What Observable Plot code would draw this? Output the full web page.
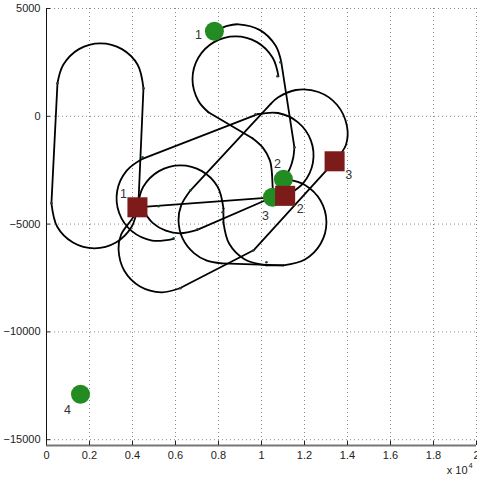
<!DOCTYPE html>
<html><head><meta charset="utf-8">
<script src="https://cdn.jsdelivr.net/npm/d3@7"></script>
<script src="https://cdn.jsdelivr.net/npm/@observablehq/plot@0.6"></script>
<style>body{margin:0;background:#fff}</style>
</head><body><div id="chart"></div>
<script>
// Axis ticks (x in units of 10^4)
const xTicks = [0, 0.2, 0.4, 0.6, 0.8, 1, 1.2, 1.4, 1.6, 1.8, 2];
const yTicks = [-15000, -10000, -5000, 0, 5000];

// Targets (green circles)
const greenLabels = ["1", "2", "3", "4"];
const greenX = [0.781, 1.102, 1.051, 0.158];
const greenY = [3942, -2922, -3757, -12894];

// Vehicles (dark red squares)
const redLabels = ["1", "2", "3"];
const redX = [0.423, 1.110, 1.340];
const redY = [-4221, -3690, -2087];

// Paths, as pieces: 2 points = straight leg, more = turning arc. [x (x10^4), y]
const pathLoop = [
  [[0.428,-3942],[0.451,1299]],
  [[0.451,1299],[0.424,2389],[0.351,3117],[0.251,3386],[0.151,3117],[0.078,2389],[0.051,1531]],
  [[0.051,1531],[0.023,-4035]],
  [[0.023,-4035],[0.050,-5125],[0.123,-5853],[0.223,-6122],[0.323,-5853],[0.396,-5125],[0.423,-4221]]
];
const pathG1toG2 = [
  [[0.781,3942],[0.841,4197],[0.893,4267],[0.993,3998],[1.066,3270],[1.092,2514]],
  [[1.092,2514],[1.153,-1438]],
  [[1.153,-1438],[1.148,-1900],[1.133,-2400],[1.102,-2922]]
];
const pathInner = [
  [[1.079,1855],[1.052,2713],[0.979,3441],[0.879,3710],[0.779,3441],[0.706,2713],[0.679,1716],[0.706,719],[0.753,186]],
  [[0.753,186],[0.958,-1020]],
  [[0.958,-1020],[1.007,-1466],[1.039,-2045],[1.049,-2695]],
  [[1.049,-2695],[1.053,-3525]]
];
const pathToR2 = [
  [[0.592,-5686],[0.491,-5765],[0.397,-5329],[0.338,-4485],[0.329,-3455],[0.373,-2523],[0.449,-1962]],
  [[0.449,-1962],[0.983,97]],
  [[0.983,97],[1.077,153],[1.170,-283],[1.230,-1127],[1.239,-2157],[1.195,-3089],[1.127,-3618]]
];
const pathR1G3a = [
  [[0.451,-4206],[1.051,-3757]]
];
const pathR1G3b = [
  [[0.437,-4174],[0.495,-4958],[0.555,-5306],[0.623,-5426],[0.701,-5269]],
  [[0.701,-5269],[1.051,-3757]]
];
const pathR1G2 = [
  [[0.423,-4221],[0.450,-3270],[0.523,-2542],[0.623,-2273],[0.723,-2542],[0.796,-3270],[0.823,-4267]],
  [[0.823,-4267],[0.823,-4916]],
  [[0.823,-4916],[0.850,-5913],[0.923,-6642],[1.023,-6911]],
  [[1.023,-6911],[1.102,-6911]],
  [[1.102,-6911],[1.202,-6642],[1.275,-5913],[1.302,-4916],[1.275,-3919],[1.202,-3191],[1.120,-2931]]
];
const pathR3G2 = [
  [[1.340,-2087],[1.393,-1317],[1.397,-436],[1.352,524],[1.265,1127],[1.160,1220],[1.078,881],[1.043,575]],
  [[1.043,575],[0.670,-3432]],
  [[0.670,-3432],[0.626,-4142],[0.614,-4824],[0.633,-5668],[0.686,-6350],[0.746,-6697],[0.814,-6818]],
  [[0.814,-6818],[1.102,-6911]]
];
const pathR1R3 = [
  [[0.423,-4221],[0.404,-4666],[0.347,-5487],[0.335,-6169],[0.362,-7166],[0.435,-7894],[0.535,-8163],[0.620,-7977]],
  [[0.620,-7977],[0.963,-6215]],
  [[0.963,-6215],[1.340,-2087]]
];

// Small waypoint dots along the paths
const wayX = [1.074,1.153,0.451,0.051,0.023,0.447,0.972,0.670,0.819,0.591,0.702,0.623,0.963,1.023,0.521,1.088];
const wayY = [1855,-1438,1299,1531,-4035,-1902,93,-3432,-4452,-5658,-5241,-7977,-6215,-6771,-4174,2504];

// label offsets (pixels), style only
const greenOff = [[-16,4],[-6,-15],[-7,19],[-13,16]];
const redOff = [[-14,-13],[15,13],[14,14]];

const paths = {pathLoop, pathG1toG2, pathInner, pathToR2, pathR1G3a, pathR1G3b, pathR1G2, pathR3G2, pathR1R3};
const rows = [];
for (const [name, pieces] of Object.entries(paths)) {
  pieces.forEach((pts, k) => {
    const kind = pts.length > 2 ? "arc" : "leg";
    for (const [x, y] of pts) rows.push({seg: name + k, kind, x, y});
  });
}
const arcs = rows.filter(d => d.kind === "arc");
const legs = rows.filter(d => d.kind === "leg");
const greens = greenLabels.map((l, i) => ({l, x: greenX[i], y: greenY[i]}));
const reds = redLabels.map((l, i) => ({l, x: redX[i], y: redY[i]}));
const ways = wayX.map((x, i) => ({x, y: wayY[i]}));

const fmtY = d => d < 0 ? "\u2212" + Math.abs(d) : String(d);

const plot = Plot.plot({
  width: 477, height: 479,
  marginLeft: 46, marginRight: 1, marginTop: 8, marginBottom: 34,
  style: {fontFamily: "'Liberation Sans', Arial, sans-serif", fontSize: "11px", color: "#222", background: "#fff"},
  x: {domain: [0, 2]},
  y: {domain: [-15270, 5000]},
  marks: [
    Plot.gridX(xTicks, {stroke: "#888", strokeOpacity: 1, strokeDasharray: "1,3"}),
    Plot.gridY(yTicks, {stroke: "#888", strokeOpacity: 1, strokeDasharray: "1,3"}),
    Plot.ruleX([0], {stroke: "#111", strokeWidth: 1}),
    Plot.ruleY([-15270], {stroke: "#777", strokeWidth: 2}),
    Plot.axisX({ticks: xTicks, tickSize: -4, tickPadding: 10, tickFormat: d => String(d), label: null, fontSize: 11}),
    Plot.axisY({ticks: yTicks, tickSize: -4, tickPadding: 10, tickFormat: fmtY, label: null, fontSize: 11}),
    Plot.line(arcs, {x: "x", y: "y", z: "seg", curve: "catmull-rom", stroke: "#000", strokeWidth: 1.8, strokeLinecap: "round"}),
    Plot.line(legs, {x: "x", y: "y", z: "seg", curve: "linear", stroke: "#000", strokeWidth: 1.8, strokeLinecap: "round"}),
    Plot.dot(ways, {x: "x", y: "y", r: 1.3, fill: "#1d4d1d"}),
    Plot.dot(greens, {x: "x", y: "y", r: 9.5, fill: "#228b22"}),
    Plot.dot(reds, {x: "x", y: "y", r: 11.3, symbol: "square", fill: "#7d1a1a"}),
    ...greens.map((g, i) => Plot.text([g], {x: "x", y: "y", text: "l", dx: greenOff[i][0], dy: greenOff[i][1], fontSize: 12.5, fill: "#333"})),
    ...reds.map((g, i) => Plot.text([g], {x: "x", y: "y", text: "l", dx: redOff[i][0], dy: redOff[i][1], fontSize: 12.5, fill: "#333"})),
    Plot.text(["x 10"], {frameAnchor: "bottom-right", text: d => d, textAnchor: "end", dx: -9, dy: 28, fontSize: 11, fill: "#222"}),
    Plot.text(["4"], {frameAnchor: "bottom-right", text: d => d, textAnchor: "start", dx: -8, dy: 22, fontSize: 7.5, fill: "#222"})
  ]
});
document.getElementById("chart").append(plot);
</script></body></html>
